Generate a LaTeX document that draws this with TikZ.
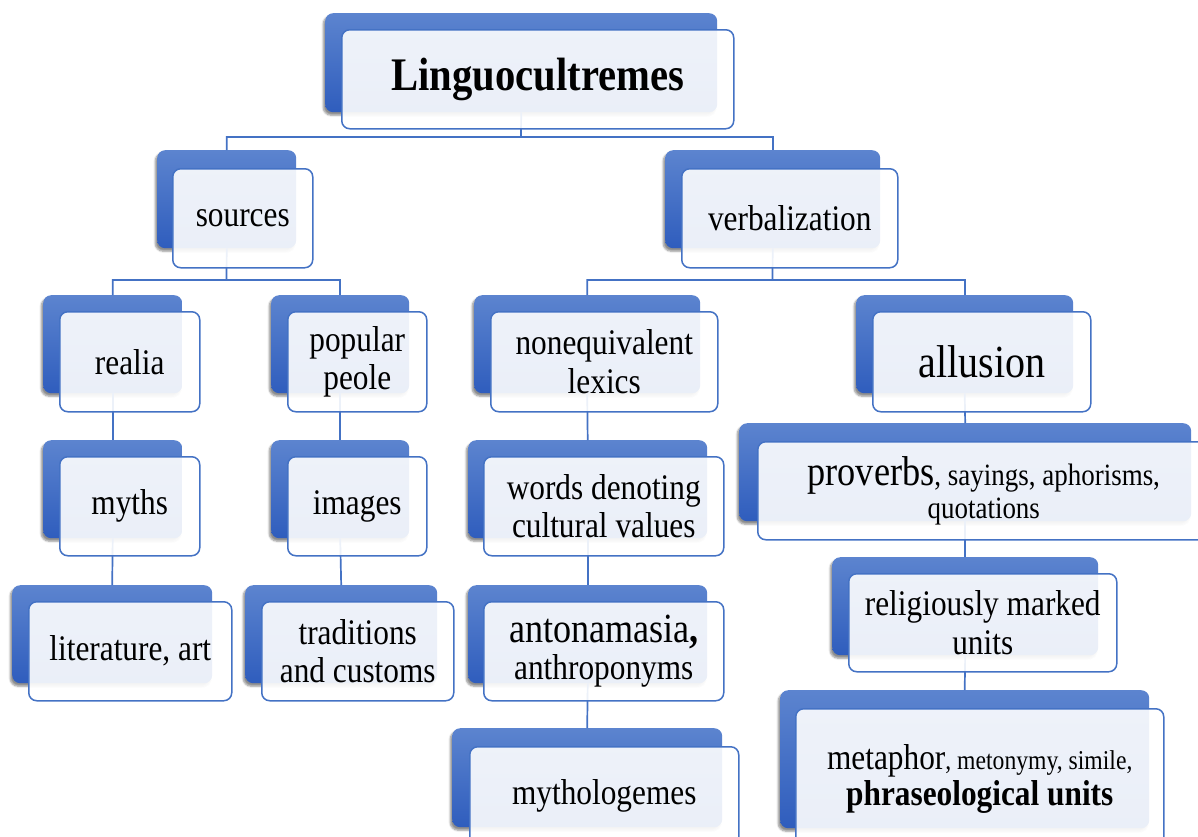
\documentclass[tikz,border=0pt]{standalone}
\usepackage{fontspec}
\setmainfont[FakeStretch=0.87]{Liberation Serif}
\usetikzlibrary{shadows.blur}
\definecolor{lineblue}{HTML}{4472C4}
\definecolor{btop}{HTML}{5C84CF}
\definecolor{bbot}{HTML}{2F5DBD}
\begin{document}
\begin{tikzpicture}[x=1pt,y=-1pt,
  backbox/.style={anchor=north west, inner sep=0pt, rounded corners=8pt,
    top color=btop, bottom color=bbot, draw=none,
    blur shadow={shadow xshift=-2pt, shadow yshift=-3pt, shadow opacity=45, shadow blur steps=6}},
  frontbox/.style={anchor=north west, inner sep=0pt, rounded corners=8pt,
    draw=lineblue, line width=1.5pt, fill=white, fill opacity=0.9, text opacity=1,
    align=center, font=\fontsize{36}{38.5}\selectfont},
  conn/.style={draw=lineblue, line width=1.7pt}]
\useasboundingbox (0,0) rectangle (1198,836);
\clip (0,0) rectangle (1198,836);

% back boxes
\node[backbox, minimum width=392pt, minimum height=99pt] (lingB) at (325,13) {};
\node[backbox, minimum width=139pt, minimum height=98pt] (srcB) at (157,150) {};
\node[backbox, minimum width=215pt, minimum height=98pt] (verbB) at (665,150) {};
\node[backbox, minimum width=139pt, minimum height=98pt] (realB) at (43,295) {};
\node[backbox, minimum width=138pt, minimum height=98pt] (popB) at (271,295) {};
\node[backbox, minimum width=226pt, minimum height=98pt] (noneqB) at (474,295) {};
\node[backbox, minimum width=217pt, minimum height=98pt] (allB) at (856,295) {};
\node[backbox, minimum width=139pt, minimum height=98pt] (mythsB) at (43,440) {};
\node[backbox, minimum width=138pt, minimum height=98pt] (imgB) at (271,440) {};
\node[backbox, minimum width=239pt, minimum height=98pt] (wordsB) at (468,440) {};
\node[backbox, minimum width=452pt, minimum height=98pt] (provB) at (739,423) {};
\node[backbox, minimum width=266pt, minimum height=98pt] (relB) at (832,557) {};
\node[backbox, minimum width=200pt, minimum height=98pt] (litB) at (12,585) {};
\node[backbox, minimum width=192pt, minimum height=98pt] (tradB) at (245,585) {};
\node[backbox, minimum width=239pt, minimum height=98pt] (antB) at (468,585) {};
\node[backbox, minimum width=369pt, minimum height=138pt] (metB) at (780,690) {};
\node[backbox, minimum width=270pt, minimum height=99pt] (mythB) at (452,728) {};

% connectors
\coordinate (bus1) at (521,137);
\coordinate (bus2) at (226.5,280);
\coordinate (bus3) at (772.5,280);
\draw[conn] (lingB.south) -- (bus1) -| (srcB.north);
\draw[conn] (bus1) -| (verbB.north);
\draw[conn] (srcB.south) -- (bus2) -| (realB.north);
\draw[conn] (bus2) -| (popB.north);
\draw[conn] (verbB.south) -- (bus3) -| (noneqB.north);
\draw[conn] (bus3) -| (allB.north);
\draw[conn] (realB.south) -- (mythsB.north);
\draw[conn] (mythsB.south) -- (litB.north);
\draw[conn] (popB.south) -- (imgB.north);
\draw[conn] (imgB.south) -- (tradB.north);
\draw[conn] (noneqB.south) -- (wordsB.north);
\draw[conn] (wordsB.south) -- (antB.north);
\draw[conn] (antB.south) -- (mythB.north);
\draw[conn] (allB.south) -- (provB.north);
\draw[conn] (provB.south) -- (relB.north);
\draw[conn] (relB.south) -- (metB.north);

% front boxes
\node[frontbox, minimum width=392pt, minimum height=99pt, font=\bfseries\fontsize{46.7}{48}\selectfont] (ling) at (341,29) {Linguocultremes};
\node[frontbox, minimum width=140pt, minimum height=99pt] (src) at (172,168) {sources};
\node[frontbox, minimum width=216pt, minimum height=99pt] (verb) at (681,168) {verbalization};
\node[frontbox, minimum width=140pt, minimum height=100pt] (real) at (59,311) {realia};
\node[frontbox, minimum width=139pt, minimum height=100pt] (pop) at (287,311) {popular\\peole};
\node[frontbox, minimum width=227pt, minimum height=100pt] (noneq) at (490,311) {nonequivalent\\lexics};
\node[frontbox, minimum width=218pt, minimum height=100pt, font=\fontsize{46}{48}\selectfont] (all) at (872,311) {allusion};
\node[frontbox, minimum width=140pt, minimum height=99pt] (myths) at (59,456) {myths};
\node[frontbox, minimum width=139pt, minimum height=99pt] (img) at (287,456) {images};
\node[frontbox, minimum width=240pt, minimum height=99pt] (words) at (483,456) {words denoting\\cultural values};
\node[frontbox, minimum width=452pt, minimum height=98pt, font=\fontsize{31}{33}\selectfont] (prov) at (757,441) {{\fontsize{41.7}{33}\selectfont proverbs}, sayings, aphorisms,\\quotations};
\node[frontbox, minimum width=268pt, minimum height=98pt] (rel) at (848,573) {religiously marked\\units};
\node[frontbox, minimum width=203pt, minimum height=99pt] (lit) at (28,601) {literature, art};
\node[frontbox, minimum width=192pt, minimum height=99pt] (trad) at (261,601) {traditions\\and customs};
\node[frontbox, minimum width=240pt, minimum height=99pt, font=\fontsize{36}{37}\selectfont] (ant) at (483,601) {{\fontsize{41.5}{37}\selectfont antonamasia\textbf{,}}\\anthroponyms};
\node[frontbox, minimum width=368pt, minimum height=140pt, font=\fontsize{36}{36}\selectfont] (met) at (795,708) {metaphor{\fontsize{27.2}{36}\selectfont, metonymy, simile,}\\\textbf{phraseological units}};
\node[frontbox, minimum width=269pt, minimum height=99pt] (myth) at (469,746) {mythologemes};
\end{tikzpicture}
\end{document}
